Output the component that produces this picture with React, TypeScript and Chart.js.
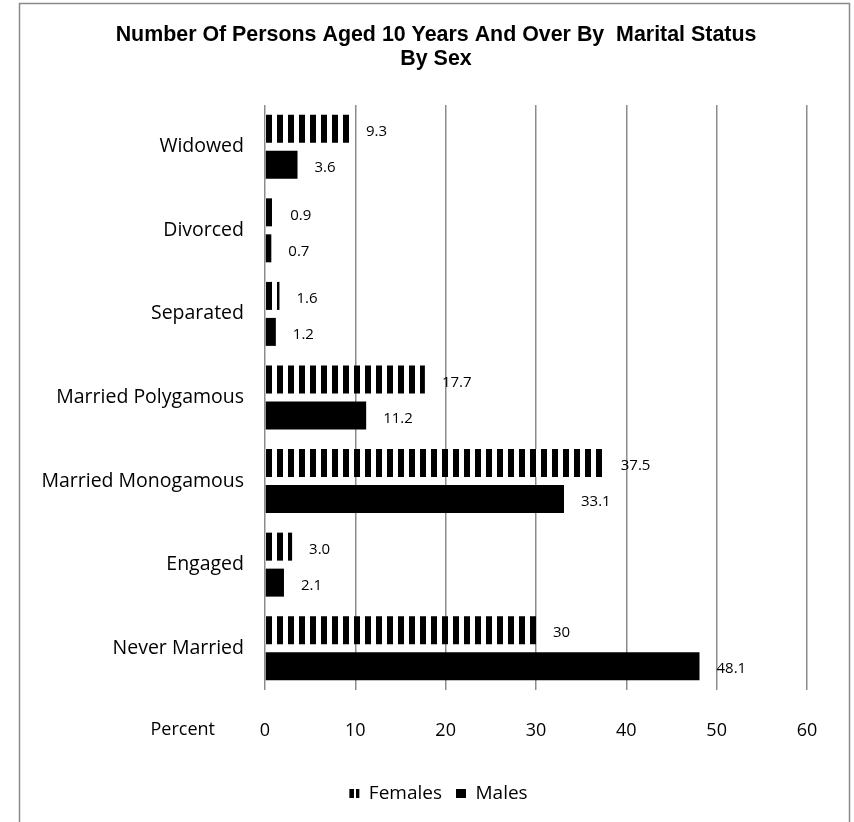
import React, { useEffect, useRef } from 'react';
import { Chart, registerables } from 'chart.js';

Chart.register(...registerables);

const titleLines = ['Number Of Persons Aged 10 Years And Over By  Marital Status', 'By Sex'];
const categories = ['Widowed', 'Divorced', 'Separated', 'Married Polygamous', 'Married Monogamous', 'Engaged', 'Never Married'];
const femaleValues = [9.3, 0.9, 1.6, 17.7, 37.5, 3.0, 30];
const femaleLabels = ['9.3', '0.9', '1.6', '17.7', '37.5', '3.0', '30'];
const maleValues = [3.6, 0.7, 1.2, 11.2, 33.1, 2.1, 48.1];
const maleLabels = ['3.6', '0.7', '1.2', '11.2', '33.1', '2.1', '48.1'];
const seriesNames = ['Females', 'Males'];
const xMin = 0;
const xMax = 60;
const xStep = 10;
const axisName = 'Percent';

const FONT = '"Open Sans", "DejaVu Sans", sans-serif';

function makeStripe(black: number, period: number): CanvasPattern | string {
  const c = document.createElement('canvas');
  c.width = period;
  c.height = 4;
  const g = c.getContext('2d');
  if (!g) return '#000';
  g.fillStyle = '#fff';
  g.fillRect(0, 0, period, 4);
  g.fillStyle = '#000';
  g.fillRect(0, 0, black, 4);
  const p = g.createPattern(c, 'repeat');
  return p || '#000';
}

function makeLegendStripe(): CanvasPattern | string {
  const c = document.createElement('canvas');
  c.width = 10;
  c.height = 4;
  const g = c.getContext('2d');
  if (!g) return '#000';
  g.fillStyle = '#fff';
  g.fillRect(0, 0, 10, 4);
  g.fillStyle = '#000';
  g.fillRect(0, 0, 5, 4);
  g.fillRect(7, 0, 3, 4);
  const p = g.createPattern(c, 'repeat');
  return p || '#000';
}

export default function App() {
  const ref = useRef<HTMLCanvasElement | null>(null);

  useEffect(() => {
    const canvas = ref.current;
    if (!canvas) return;
    const barPattern = makeStripe(6, 11);
    const legendPattern = makeLegendStripe();
    const allLabels = [femaleLabels, maleLabels];

    const framePlugin = {
      id: 'frame',
      afterLayout(chart: any) {
        const t = chart.titleBlock;
        if (t) {
          t.left += 32.5;
          t.right += 32.5;
        }
        const l = chart.legend;
        if (l) {
          l.left += 35;
          l.right += 35;
        }
      },
      beforeDraw(chart: any) {
        const ctx = chart.ctx;
        ctx.save();
        ctx.fillStyle = '#fff';
        ctx.fillRect(0, 0, chart.width, chart.height);
        ctx.strokeStyle = '#8a8a8a';
        ctx.lineWidth = 1.5;
        ctx.strokeRect(19.5, 3.5, 830, 840);
        ctx.restore();
        const x0 = chart.scales.x.getPixelForValue(0);
        if (typeof barPattern !== 'string' && (barPattern as any).setTransform) {
          barPattern.setTransform(new DOMMatrix([1, 0, 0, 1, Math.round(x0) + 1, 0]));
        }
        const hb = chart.legend && chart.legend.legendHitBoxes && chart.legend.legendHitBoxes[0];
        if (hb && typeof legendPattern !== 'string' && (legendPattern as any).setTransform) {
          legendPattern.setTransform(new DOMMatrix([1, 0, 0, 1, Math.round(hb.left), 0]));
        }
      },
    };

    const labelPlugin = {
      id: 'valueLabels',
      afterDatasetsDraw(chart: any) {
        const ctx = chart.ctx;
        ctx.save();
        ctx.font = '15px ' + FONT;
        ctx.fillStyle = '#000';
        ctx.textAlign = 'left';
        ctx.textBaseline = 'middle';
        chart.data.datasets.forEach((_ds: any, di: number) => {
          const meta = chart.getDatasetMeta(di);
          meta.data.forEach((bar: any, i: number) => {
            ctx.fillText(allLabels[di][i], bar.x + 17, bar.y + 3);
          });
        });
        ctx.restore();
      },
      afterDraw(chart: any) {
        const ctx = chart.ctx;
        ctx.save();
        ctx.font = '18px ' + FONT;
        ctx.fillStyle = '#000';
        ctx.textAlign = 'right';
        ctx.textBaseline = 'middle';
        ctx.fillText(axisName, 215, 730);
        ctx.restore();
      },
    };

    const chart = new Chart(canvas, {
      type: 'bar',
      data: {
        labels: categories,
        datasets: [
          {
            label: seriesNames[0],
            data: femaleValues,
            backgroundColor: barPattern as any,
            borderWidth: 0,
            categoryPercentage: 0.861,
            barPercentage: 0.778,
          },
          {
            label: seriesNames[1],
            data: maleValues,
            backgroundColor: '#000',
            borderWidth: 0,
            categoryPercentage: 0.861,
            barPercentage: 0.778,
          },
        ],
      },
      options: {
        indexAxis: 'y',
        responsive: false,
        animation: false,
        devicePixelRatio: 1,
        layout: { padding: { top: 0, left: 0, right: 47, bottom: 9 } },
        plugins: {
          title: {
            display: true,
            text: titleLines,
            color: '#000',
            font: { family: '"Liberation Sans", Arial, sans-serif', size: 21.4, weight: 'bold', lineHeight: 1.13 },
            padding: { top: 23, bottom: 33.6 },
          },
          legend: {
            display: true,
            position: 'bottom',
            labels: {
              color: '#000',
              font: { family: FONT, size: 19 },
              boxWidth: 10,
              boxHeight: 9,
              padding: 14,
              generateLabels: (chart: any) =>
                chart.data.datasets.map((ds: any, i: number) => ({
                  text: ds.label,
                  fillStyle: i === 0 ? legendPattern : '#000',
                  strokeStyle: 'rgba(0,0,0,0)',
                  lineWidth: 0,
                  hidden: false,
                  datasetIndex: i,
                  fontColor: '#000',
                })),
            },
          },
          tooltip: { enabled: false },
        },
        scales: {
          x: {
            type: 'linear',
            position: 'bottom',
            min: xMin,
            max: xMax,
            ticks: { stepSize: xStep, color: '#000', font: { family: FONT, size: 18 }, padding: 30 },
            grid: { color: '#8c8c8c', lineWidth: 1.5, drawTicks: false },
            border: { display: false },
            afterFit: (s: any) => {
              s.height = 80;
            },
          },
          y: {
            type: 'category',
            position: 'left',
            ticks: { color: '#000', font: { family: FONT, size: 19.5 }, padding: 21 },
            grid: { display: false, drawTicks: false },
            border: { display: false },
            afterFit: (s: any) => {
              s.width = 265;
            },
          },
        },
      },
      plugins: [framePlugin, labelPlugin],
    } as any);

    return () => chart.destroy();
  }, []);

  return (
    <div style={{ position: 'fixed', left: 0, top: 0, width: 854, height: 822 }}>
      <canvas ref={ref} width={854} height={822} style={{ display: 'block', width: 854, height: 822 }} />
    </div>
  );
}
